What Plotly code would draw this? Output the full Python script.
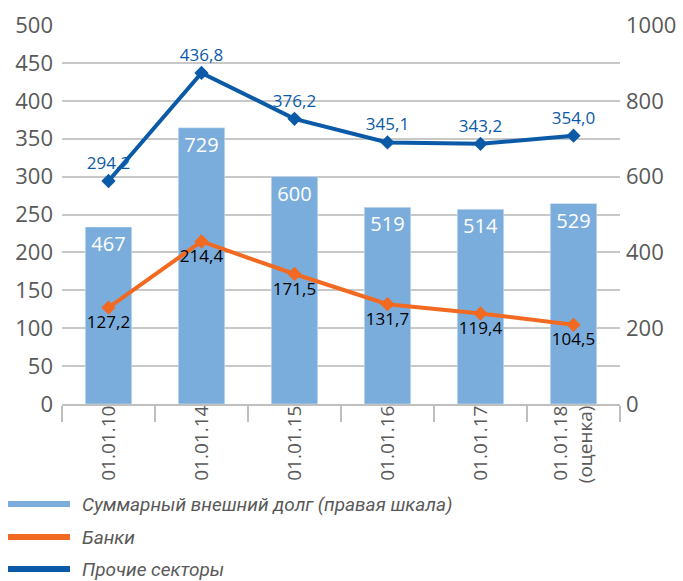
import plotly.graph_objects as go

categories = ["01.01.10", "01.01.14", "01.01.15", "01.01.16", "01.01.17", "01.01.18<br>(оценка)"]
total_debt = [467, 729, 600, 519, 514, 529]
banks = [127.2, 214.4, 171.5, 131.7, 119.4, 104.5]
other = [294.2, 436.8, 376.2, 345.1, 343.2, 354.0]

legend_names = ["Суммарный внешний долг (правая шкала)", "Банки", "Прочие секторы"]

BAR = "#7aaddc"
ORANGE = "#f26a22"
BLUE = "#0b5aa8"
GREY = "#595959"
FONT = "Open Sans"
LEGFONT = "Roboto"

def fmt(v):
    return f"{v:.1f}".replace(".", ",")

fig = go.Figure()
fig.add_trace(go.Bar(
    x=categories, y=total_debt, yaxis="y", marker_color=BAR, width=0.5,
    text=[str(v) for v in total_debt], textposition="inside", insidetextanchor="end",
    textfont=dict(color="white", size=20, family=FONT), textangle=0,
    name=legend_names[0], showlegend=False,
))
fig.add_trace(go.Scatter(
    x=categories, y=banks, yaxis="y2", mode="lines+markers+text",
    line=dict(color=ORANGE, width=4), marker=dict(symbol="diamond", size=11, color=ORANGE),
    text=[fmt(v) for v in banks], textposition="bottom center",
    textfont=dict(color="black", size=17, family=FONT),
    name=legend_names[1], showlegend=False, cliponaxis=False,
))
fig.add_trace(go.Scatter(
    x=categories, y=other, yaxis="y2", mode="lines+markers+text",
    line=dict(color=BLUE, width=4), marker=dict(symbol="diamond", size=11, color=BLUE),
    text=[fmt(v) for v in other], textposition="top center",
    textfont=dict(color=BLUE, size=17, family=FONT),
    name=legend_names[2], showlegend=False, cliponaxis=False,
))

x0, x1, y0, y1 = 62, 620, 25, 404
W, H = x1 - x0, y1 - y0
def px(x): return (x - x0) / W
def py(y): return (y1 - y) / H

shapes = []
annotations = []
for name, color, yy in zip(legend_names, [BAR, ORANGE, BLUE], [504, 537, 569]):
    shapes.append(dict(type="line", xref="paper", yref="paper", x0=px(8), x1=px(70), y0=py(yy), y1=py(yy),
                       line=dict(color=color, width=6)))
    annotations.append(dict(xref="paper", yref="paper", x=px(80), y=py(yy), xanchor="left", yanchor="middle",
                            text=f"<i>{name}</i>", showarrow=False,
                            font=dict(family=LEGFONT, size=19, color=GREY)))

fig.update_layout(
    width=683, height=581,
    margin=dict(l=x0, r=683 - x1, t=y0, b=581 - y1, autoexpand=False),
    paper_bgcolor="white", plot_bgcolor="white",
    font=dict(family=FONT, color=GREY),
    bargap=0.5,
    xaxis=dict(type="category", tickangle=-90, tickson="boundaries", ticks="outside", ticklen=16,
               tickwidth=2, tickcolor="#bfbfbf", showline=True, linecolor="#bfbfbf", linewidth=2,
               tickfont=dict(size=19, color=GREY, family=FONT), showgrid=False, automargin=False,
               ticklabelstandoff=-8),
    yaxis=dict(side="right", range=[0, 1000], dtick=200, showgrid=False, zeroline=False, automargin=False,
               tickfont=dict(size=22, color=GREY, family=FONT), ticks="", ticklabelstandoff=5),
    yaxis2=dict(side="left", overlaying="y", range=[0, 500], dtick=50, showgrid=True, automargin=False,
                gridcolor="#c8c8c8", gridwidth=1.5, zeroline=False,
                tickfont=dict(size=22, color=GREY, family=FONT), ticks="", ticklabelstandoff=8),
    shapes=shapes, annotations=annotations,
)

fig.write_html("out.html", config={"displayModeBar": False},
               post_script="document.body.style.margin='0px';document.body.style.padding='0px';")
